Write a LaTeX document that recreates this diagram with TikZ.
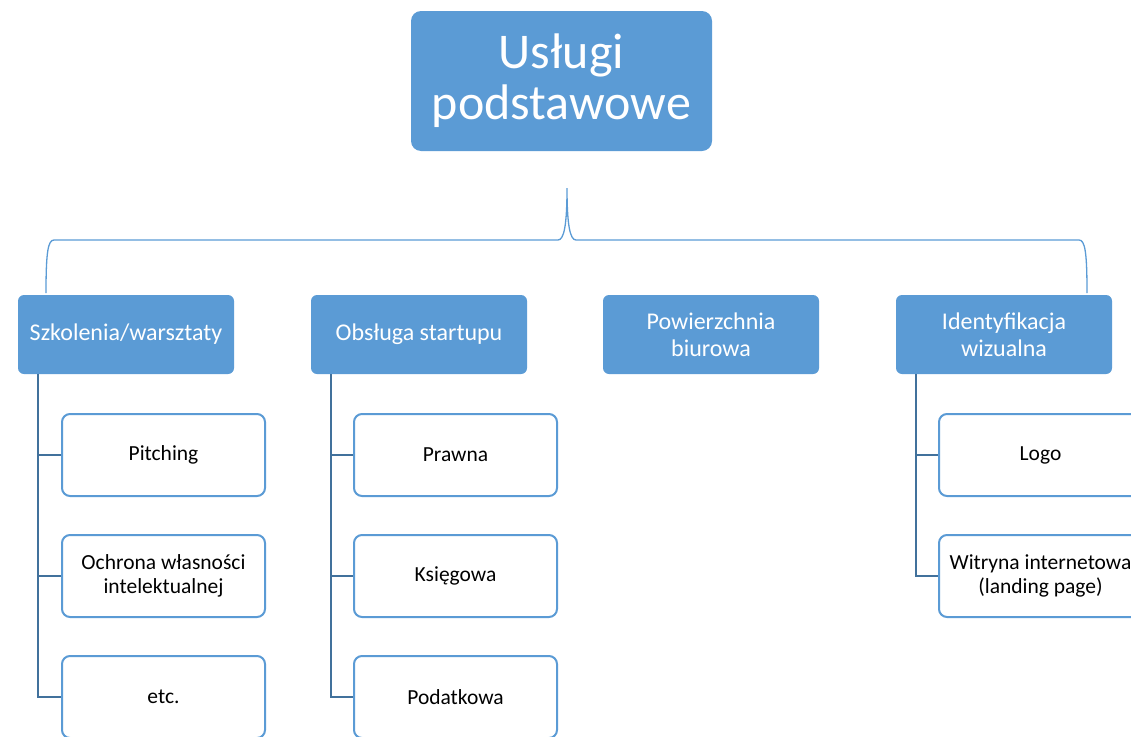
\documentclass[tikz,border=0pt]{standalone}
\usepackage{fontspec}
\setmainfont{Carlito}
\definecolor{accent}{HTML}{5B9BD5}
\definecolor{linkc}{HTML}{41719C}
\begin{document}
\begin{tikzpicture}[x=1pt,y=-1pt,
  topbox/.style={fill=accent,draw=none,rounded corners=10pt,minimum width=301pt,minimum height=140pt,text=white,align=center,font=\fontsize{50}{51}\selectfont,inner sep=0pt},
  lvlbox/.style={fill=accent,draw=none,rounded corners=6pt,minimum width=216pt,minimum height=79pt,text=white,align=center,font=\fontsize{24}{27}\selectfont,inner sep=0pt},
  childbox/.style={fill=white,draw=accent,line width=2pt,rounded corners=8pt,minimum width=203pt,minimum height=82pt,text=black,align=center,font=\fontsize{21.5}{24}\selectfont,inner sep=0pt},
  link/.style={draw=linkc,line width=2.5pt},
  bracel/.style={draw=accent,line width=1.3pt}]
\useasboundingbox (0,0) rectangle (1131,736);
\clip (0,0) rectangle (1131,736);
\node[topbox] (top) at (561.5,81) {Usługi\\podstawowe};
\node[lvlbox] (b1) at (126,334.5) {Szkolenia/warsztaty};
\node[lvlbox] (b2) at (419,334.5) {Obsługa startupu};
\node[lvlbox] (b3) at (711,334.5) {Powierzchnia\\biurowa};
\node[lvlbox] (b4) at (1004,334.5) {Identyfikacja\\wizualna};
\node[childbox] (c11) at (163.5,455) {Pitching};
\node[childbox] (c12) at (163.5,576) {Ochrona własności\\intelektualnej};
\node[childbox] (c13) at (163.5,697) {etc.};
\node[childbox] (c21) at (455.5,455) {Prawna};
\node[childbox] (c22) at (455.5,576) {Księgowa};
\node[childbox] (c23) at (455.5,697) {Podatkowa};
\node[childbox] (c41) at (1040.5,455) {Logo};
\node[childbox] (c42) at (1040.5,576) {Witryna internetowa\\(landing page)};
% connectors
\coordinate (s1) at ([xshift=20pt]b1.south west);
\coordinate (s2) at ([xshift=20pt]b2.south west);
\coordinate (s4) at ([xshift=20pt]b4.south west);
\draw[link] (s1) |- (c13.west);
\draw[link] (s1 |- c11.west) -- (c11.west);
\draw[link] (s1 |- c12.west) -- (c12.west);
\draw[link] (s2) |- (c23.west);
\draw[link] (s2 |- c21.west) -- (c21.west);
\draw[link] (s2 |- c22.west) -- (c22.west);
\draw[link] (s4) |- (c42.west);
\draw[link] (s4 |- c41.west) -- (c41.west);
% brace
\coordinate (bl) at (46,293);
\coordinate (br) at (1087,293);
\coordinate (tip) at (567,188);
\draw[bracel] (bl) .. controls (46,252) and (48,240) .. (54,240) -- (558,240)
  .. controls (564,240) and (567,225) .. (tip)
  .. controls (567,225) and (570,240) .. (576,240) -- (1079,240)
  .. controls (1085,240) and (1087,252) .. (br);
\end{tikzpicture}
\end{document}
